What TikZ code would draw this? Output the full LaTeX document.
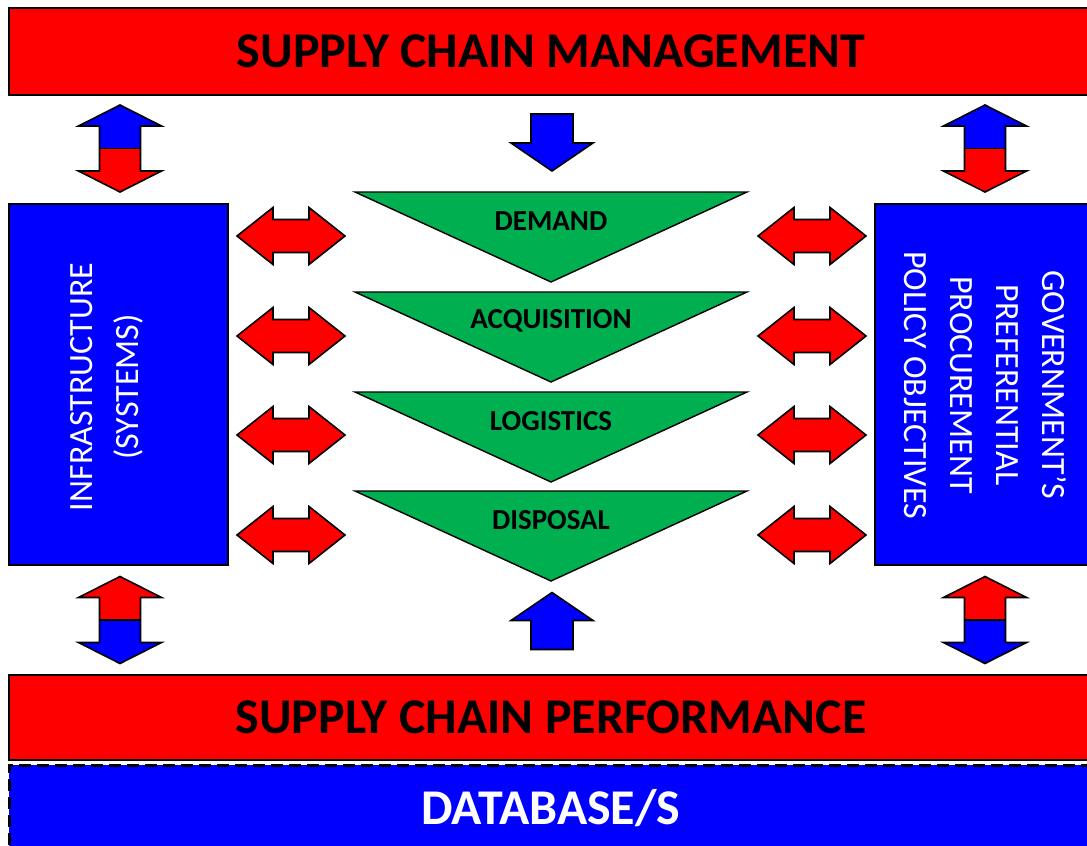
\documentclass[tikz,border=0pt]{standalone}
\usepackage{fontspec}
\setmainfont{Carlito}
\definecolor{scred}{RGB}{255,0,0}
\definecolor{scblue}{RGB}{0,0,255}
\definecolor{scgreen}{RGB}{0,176,80}
\begin{document}
\begin{tikzpicture}[x=1pt,y=-1pt,
  outl/.style={draw=black,line width=1.6pt,line join=miter},
  band/.style={draw=black,line width=2pt,fill=scred,minimum width=1084pt,inner sep=0pt},
  sidebox/.style={draw=black,line width=2pt,fill=scblue,inner sep=0pt},
  bandtext/.style={font=\bfseries\fontsize{50}{60}\selectfont,text=black},
  sidetext/.style={font=\fontsize{34}{46}\selectfont,text=white,align=center,inner sep=0pt},
  stagetext/.style={font=\bfseries\fontsize{29}{34}\selectfont,text=black,inner sep=0pt},
  % horizontal red double arrow
  pics/hdarrow/.style={code={
    \draw[outl,fill=scred] (-54,0) -- (-18,-28.5) -- (-18,-16.5) -- (18,-16.5) -- (18,-28.5)
      -- (54,0) -- (18,28.5) -- (18,16.5) -- (-18,16.5) -- (-18,28.5) -- cycle;}},
  % vertical double arrow, upper colour #1, lower colour #2
  pics/vdarrow/.style 2 args={code={
    \fill[#1] (-41.5,-22.5) -- (0,-43.5) -- (41.5,-22.5) -- (20.5,-22.5) -- (20.5,0)
      -- (-20.5,0) -- (-20.5,-22.5) -- cycle;
    \fill[#2] (-20.5,0) -- (20.5,0) -- (20.5,22.5) -- (41.5,22.5) -- (0,43.5)
      -- (-41.5,22.5) -- (-20.5,22.5) -- cycle;
    \draw[outl] (0,-43.5) -- (41.5,-22.5) -- (20.5,-22.5) -- (20.5,22.5) -- (41.5,22.5)
      -- (0,43.5) -- (-41.5,22.5) -- (-20.5,22.5) -- (-20.5,-22.5) -- (-41.5,-22.5) -- cycle;
    \draw[outl] (-20.5,0) -- (20.5,0);}},
  % single blue arrow pointing down
  pics/sdarrow/.style={code={
    \draw[outl,fill=scblue] (-21,-28.5) -- (21,-28.5) -- (21,0.5) -- (41,0.5) -- (0,28.5)
      -- (-41,0.5) -- (-21,0.5) -- cycle;}},
  % green stage triangle
  pics/stage/.style={code={
    \draw[outl,line width=1.4pt,fill=scgreen] (-196,0) -- (196,0) -- (0,90) -- cycle;}}
]
\useasboundingbox (0,0) rectangle (1087,846);
\clip (0,0) rectangle (1087,846);
\fill[white] (0,0) rectangle (1087,846);

% horizontal bands
\node[band,minimum height=87pt] (scm) at (551,51.5) {};
\node[bandtext] (scmlabel) at (scm.center) {SUPPLY CHAIN MANAGEMENT};
\node[band,minimum height=85pt] (scp) at (551,717.5) {};
\node[bandtext] (scplabel) at (scp.center) {SUPPLY CHAIN PERFORMANCE};
\node[draw=black,line width=3pt,dash pattern=on 12pt off 6pt,fill=scblue,
      minimum width=1084pt,minimum height=86pt,inner sep=0pt] (db) at (551,808) {};
\node[bandtext,text=white] (dblabel) at (db.center) {DATABASE/S};

% side boxes
\node[sidebox,minimum width=219pt,minimum height=361pt] (infra) at (118.5,384.5) {};
\node[sidetext,rotate=90] (infralabel) at (107,387) {INFRASTRUCTURE\\(SYSTEMS)};
\node[sidebox,minimum width=220pt,minimum height=361pt] (gov) at (985,384.5) {};
\node[sidetext,rotate=-90] (govlabel) at (985,385)
  {GOVERNMENT’S\\PREFERENTIAL\\PROCUREMENT\\POLICY OBJECTIVES};

% stage triangles
\pic at (551,192) {stage};
\node[stagetext] (demand) at (551,221) {DEMAND};
\pic at (551,292) {stage};
\node[stagetext] (acq) at (551,321) {ACQUISITION};
\pic at (551,392) {stage};
\node[stagetext] (logi) at (551,421) {LOGISTICS};
\pic at (551,491) {stage};
\node[stagetext] (disp) at (551,520) {DISPOSAL};

% arrow positions
\coordinate (vtl) at (120,148.5);
\coordinate (vtr) at (985,148.5);
\coordinate (vbl) at (120,620);
\coordinate (vbr) at (985,620);
\coordinate (ctop) at (552,142.5);
\coordinate (cbot) at (552,621);

\pic at (vtl) {vdarrow={scblue}{scred}};
\pic at (vtr) {vdarrow={scblue}{scred}};
\pic at (vbl) {vdarrow={scred}{scblue}};
\pic at (vbr) {vdarrow={scred}{scblue}};
\pic at (ctop) {sdarrow};
\pic[yscale=-1] at (cbot) {sdarrow};

\foreach \r/\yy in {1/236,2/336,3/435,4/535}{
  \coordinate (hl\r) at (291,\yy);
  \coordinate (hr\r) at (812,\yy);
  \pic at (hl\r) {hdarrow};
  \pic at (hr\r) {hdarrow};
}
\end{tikzpicture}
\end{document}
